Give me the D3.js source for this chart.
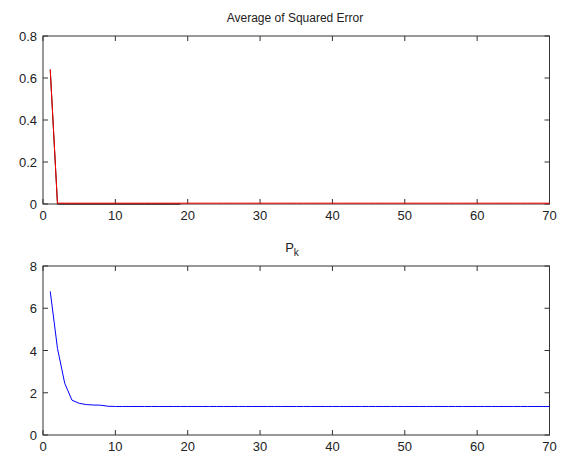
<!DOCTYPE html>
<html>
<head>
<meta charset="utf-8">
<script src="https://cdn.jsdelivr.net/npm/d3@7"></script>
<style>
  body { margin: 0; background: #fff; }
  text { font-family: "Liberation Sans", Arial, sans-serif; fill: #222; }
</style>
</head>
<body>
<div id="chart"></div>
<script>
// error values per iteration (red = test, black = train, shown only to 19)
var errTest = [0.64, 0.004];
for (var i = 3; i <= 70; i++) errTest.push(0.004);
var errTrain = [0.64, 0];
for (var i = 3; i <= 19; i++) errTrain.push(0);

// P_k per iteration
var pk = [6.8, 4.1, 2.45, 1.65, 1.5, 1.44, 1.42, 1.41, 1.36];
for (var i = 10; i <= 70; i++) pk.push(1.35);

var xTicks = [0, 10, 20, 30, 40, 50, 60, 70];
var yTicksTop = [0, 0.2, 0.4, 0.6, 0.8];
var yTicksBot = [0, 2, 4, 6, 8];

var W = 562, H = 455;
var svg = d3.select("#chart").append("svg")
  .attr("width", W).attr("height", H);

var x = d3.scaleLinear().domain([0, 70]).range([43, 549.5]);

function panel(top, bottom, ymax, yTicks, fmt, series) {
  var y = d3.scaleLinear().domain([0, ymax]).range([bottom, top]);
  var g = svg.append("g");

  // box
  g.append("rect")
    .attr("x", x(0)).attr("y", top)
    .attr("width", x(70) - x(0)).attr("height", bottom - top)
    .attr("fill", "none").attr("stroke", "#333");

  // ticks inside on all sides
  xTicks.forEach(function(t) {
    g.append("line").attr("x1", x(t)).attr("x2", x(t))
      .attr("y1", bottom).attr("y2", bottom - 5).attr("stroke", "#333");
    g.append("line").attr("x1", x(t)).attr("x2", x(t))
      .attr("y1", top).attr("y2", top + 5).attr("stroke", "#333");
    g.append("text").attr("x", x(t)).attr("y", bottom + 16)
      .attr("text-anchor", "middle").style("font-size", "13px").text(t);
  });
  yTicks.forEach(function(t) {
    g.append("line").attr("x1", x(0)).attr("x2", x(0) + 5)
      .attr("y1", y(t)).attr("y2", y(t)).attr("stroke", "#333");
    g.append("line").attr("x1", x(70)).attr("x2", x(70) - 5)
      .attr("y1", y(t)).attr("y2", y(t)).attr("stroke", "#333");
    g.append("text").attr("x", x(0) - 6).attr("y", y(t) + 5)
      .attr("text-anchor", "end").style("font-size", "13px").text(fmt(t));
  });

  var line = d3.line()
    .x(function(d, i) { return x(i + 1); })
    .y(function(d) { return y(d); });

  series.forEach(function(s) {
    g.append("path")
      .datum(s.data)
      .attr("d", line)
      .attr("fill", "none")
      .attr("stroke", s.color)
      .attr("stroke-width", 1);
  });

  return g;
}

panel(36, 204, 0.8, yTicksTop, function(t) { return t === 0 ? "0" : d3.format(".1f")(t); },
  [{ data: errTrain, color: "#000" }, { data: errTest, color: "#ff0000" }]);
svg.append("text").attr("x", 295).attr("y", 22)
  .attr("text-anchor", "middle").style("font-size", "12px")
  .text("Average of Squared Error");

panel(266, 435, 8, yTicksBot, function(t) { return t; },
  [{ data: pk, color: "#0000ff" }]);
var pt = svg.append("text").attr("x", 292).attr("y", 252)
  .attr("text-anchor", "middle").style("font-size", "13px");
pt.append("tspan").text("P");
pt.append("tspan").attr("dy", 4).style("font-size", "10px").text("k");
</script>
</body>
</html>
